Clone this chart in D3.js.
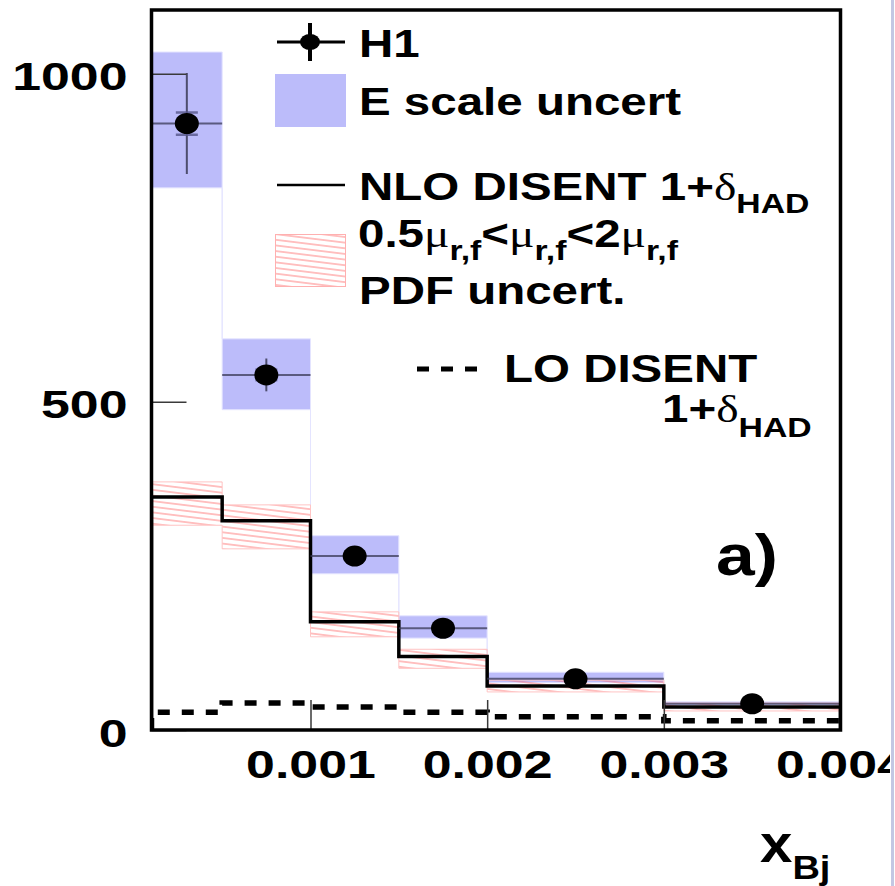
<!DOCTYPE html>
<html><head><meta charset="utf-8">
<script src="https://cdn.jsdelivr.net/npm/d3@7/dist/d3.min.js"></script>
<style>html,body{margin:0;padding:0;background:#fff}svg{display:block}</style>
</head><body>
<svg id="chart" width="895" height="886"></svg>
<script>
// ---- data ----
const binEdges = [0.0001, 0.0005, 0.001, 0.0015, 0.002, 0.003, 0.004];
const h1X = [0.0003, 0.00075, 0.00125, 0.00175, 0.0025, 0.0035];
const h1Y = [924, 541, 265, 155, 78, 40];
const h1TotErr = [77, 25, 10, 7, 4, 3];
const h1StatErr = [17, 8, 5, 4, 3, 2];
const eScaleHigh = [1033, 596, 296, 174, 88, 43];
const eScaleLow = [826, 488, 238, 140, 72, 38];
const nloHad = [355, 319, 165, 112, 67, 35];
const scaleHigh = [378, 343, 180, 123, 76, 41];
const scaleLow = [312, 276, 142, 94, 58, 29];
const loHad = [27, 41, 35, 27, 20, 14];
const yTicks = [0, 500, 1000];
const xTicks = [0.001, 0.002, 0.003, 0.004];
const xTickLabels = ["0.001", "0.002", "0.003", "0.004"];

const SANS = "'Liberation Sans', Arial, Helvetica, sans-serif";
const SERIF = "'Liberation Serif', 'Times New Roman', serif";
const BLUE = "#bcbcfa";

const svg = d3.select("#chart");
const x = d3.scaleLinear().domain([0.0001, 0.004]).range([151.5, 840.5]);
const y = d3.scaleLinear().domain([0, 1097]).range([730, 10]);

const bins = binEdges.slice(0, -1).map((lo, i) => ({lo, hi: binEdges[i + 1], i}));

const defs = svg.append("defs");
const pat = defs.append("pattern").attr("id", "hatch")
  .attr("patternUnits", "userSpaceOnUse").attr("width", 40).attr("height", 5.6)
  .attr("patternTransform", "rotate(7)");
pat.append("line").attr("x1", 0).attr("x2", 40).attr("y1", 2.8).attr("y2", 2.8)
  .attr("stroke", "#ff5c5c").attr("stroke-width", 1).attr("stroke-opacity", 0.8);

defs.append("clipPath").attr("id", "plotclip").append("rect")
  .attr("x", x(0.0001)).attr("y", y(1097)).attr("width", x(0.004) - x(0.0001)).attr("height", y(0) - y(1097));

const plot = svg.append("g").attr("clip-path", "url(#plotclip)");

// E-scale uncertainty band
plot.append("g").selectAll("rect").data(bins).join("rect")
  .attr("x", d => x(d.lo)).attr("width", d => x(d.hi) - x(d.lo))
  .attr("y", d => y(eScaleHigh[d.i])).attr("height", d => y(eScaleLow[d.i]) - y(eScaleHigh[d.i]))
  .attr("fill", BLUE);

function stepPoints(vals, fromZero) {
  const pts = [];
  if (fromZero) pts.push([x(binEdges[0]), y(0)]);
  bins.forEach(b => { pts.push([x(b.lo), y(vals[b.i])]); pts.push([x(b.hi), y(vals[b.i])]); });
  if (fromZero) pts.push([x(binEdges[binEdges.length - 1]), y(0)]);
  return pts;
}
const line = d3.line();

// faint outlines of the E-scale band
[eScaleHigh, eScaleLow].forEach(v => plot.append("path").attr("d", line(stepPoints(v, false)))
  .attr("fill", "none").attr("stroke", "#e4e4ff").attr("stroke-width", 1));

// scale/PDF hatched band
plot.append("g").selectAll("rect").data(bins).join("rect")
  .attr("x", d => x(d.lo)).attr("width", d => x(d.hi) - x(d.lo))
  .attr("y", d => y(scaleHigh[d.i])).attr("height", d => y(scaleLow[d.i]) - y(scaleHigh[d.i]))
  .attr("fill", "url(#hatch)");
[scaleHigh, scaleLow].forEach(v => plot.append("path").attr("d", line(stepPoints(v, false)))
  .attr("fill", "none").attr("stroke", "#ffc4c4").attr("stroke-width", 1));

// axes ticks (inside)
const yAxis = svg.append("g").attr("transform", `translate(${x(0.0001)},0)`)
  .call(d3.axisLeft(y).tickValues(yTicks).tickSize(-35).tickPadding(24).tickFormat(d3.format("d")));
const xAxis = svg.append("g").attr("transform", `translate(0,${y(0)})`)
  .call(d3.axisBottom(x).tickValues(xTicks).tickSize(-30).tickPadding(20).tickFormat((d, i) => xTickLabels[i]));
[yAxis, xAxis].forEach(a => {
  a.select(".domain").remove();
  a.selectAll(".tick line").attr("stroke", "#3a3a3a").attr("stroke-width", 1.5);
  a.selectAll("text").attr("fill", "#000").attr("font-family", SANS).attr("font-weight", "bold").attr("font-size", 39);
});
yAxis.selectAll("text").attr("dy", "0.41em").attr("transform", function () {
  const xx = +d3.select(this).attr("x"); d3.select(this).attr("x", 0);
  return `translate(${xx},0) scale(1.33,1)`;
});
xAxis.selectAll("text").attr("transform", function () {
  const yy = +d3.select(this).attr("y"); d3.select(this).attr("y", 0);
  return `translate(0,${yy}) scale(1.33,1)`;
});

// NLO histogram
plot.append("path").attr("d", line(stepPoints(nloHad, true)))
  .attr("fill", "none").attr("stroke", "#000").attr("stroke-width", 3.5);
// LO histogram (dashed)
plot.append("path").attr("d", line(stepPoints(loHad, true)))
  .attr("fill", "none").attr("stroke", "#000").attr("stroke-width", 5.5).attr("stroke-dasharray", "12,12");

// H1 data
const pts = plot.append("g").selectAll("g").data(h1X.map((v, i) => ({v, i}))).join("g");
pts.append("line").attr("x1", d => x(bins[d.i].lo)).attr("x2", d => x(bins[d.i].hi))
  .attr("y1", d => y(h1Y[d.i])).attr("y2", d => y(h1Y[d.i]))
  .attr("stroke", "#3a3a55").attr("stroke-opacity", 0.75).attr("stroke-width", 2);
pts.append("line").attr("x1", d => x(d.v)).attr("x2", d => x(d.v))
  .attr("y1", d => y(h1Y[d.i] + h1TotErr[d.i])).attr("y2", d => y(h1Y[d.i] - h1TotErr[d.i]))
  .attr("stroke", "#3a3a55").attr("stroke-opacity", 0.85).attr("stroke-width", 2);
[1, -1].forEach(s => pts.append("line")
  .attr("x1", d => x(d.v) - 11).attr("x2", d => x(d.v) + 11)
  .attr("y1", d => y(h1Y[d.i] + s * h1StatErr[d.i])).attr("y2", d => y(h1Y[d.i] + s * h1StatErr[d.i]))
  .attr("stroke", "#55558a").attr("stroke-opacity", 0.8).attr("stroke-width", 2.5));
pts.append("ellipse").attr("cx", d => x(d.v)).attr("cy", d => y(h1Y[d.i]))
  .attr("rx", 12).attr("ry", 10.5).attr("fill", "#000");

// frame
svg.append("rect").attr("x", x(0.0001)).attr("y", y(1097))
  .attr("width", x(0.004) - x(0.0001)).attr("height", y(0) - y(1097))
  .attr("fill", "none").attr("stroke", "#000").attr("stroke-width", 3.5);

// ---- text helpers ----
function stext(px, py, sx, parts, size) {
  const t = svg.append("text").attr("transform", `translate(${px},${py}) scale(${sx},1)`)
    .attr("font-family", SANS).attr("font-weight", "bold").attr("font-size", size).attr("fill", "#000");
  let cur = 0;
  parts.forEach(p => {
    const sh = p.sub ? p.sub : 0;
    const ts = t.append("tspan").text(p.t).attr("dy", sh - cur);
    cur = sh;
    if (p.serif) ts.attr("font-family", SERIF).attr("font-weight", "normal");
    if (p.size) ts.attr("font-size", p.size);
  });
  return t;
}

// ---- legend ----
const leg = svg.append("g");
leg.append("line").attr("x1", 277).attr("x2", 345).attr("y1", 42).attr("y2", 42).attr("stroke", "#000").attr("stroke-width", 3);
leg.append("line").attr("x1", 310).attr("x2", 310).attr("y1", 23).attr("y2", 61).attr("stroke", "#000").attr("stroke-width", 4);
leg.append("ellipse").attr("cx", 310).attr("cy", 42).attr("rx", 10).attr("ry", 8).attr("fill", "#000");
stext(359, 57, 1.25, [{t: "H1"}], 38);

leg.append("rect").attr("x", 275).attr("y", 74).attr("width", 71).attr("height", 53).attr("fill", BLUE);
stext(359, 115, 1.25, [{t: "E scale uncert"}], 38);

leg.append("line").attr("x1", 277).attr("x2", 345).attr("y1", 185).attr("y2", 185).attr("stroke", "#000").attr("stroke-width", 2.5);
stext(359, 200, 1.25, [{t: "NLO DISENT 1+"}, {t: "δ", serif: true}, {t: "HAD", sub: 13, size: 27}], 38);

leg.append("rect").attr("x", 275.5).attr("y", 234.5).attr("width", 70).attr("height", 52)
  .attr("fill", "url(#hatch)").attr("stroke", "#ffb0b0").attr("stroke-width", 1);
stext(358, 247, 1.25, [{t: "0.5"}, {t: "μ", serif: true}, {t: "r,f", sub: 13, size: 27},
  {t: "<"}, {t: "μ", serif: true}, {t: "r,f", sub: 13, size: 27},
  {t: "<2"}, {t: "μ", serif: true}, {t: "r,f", sub: 13, size: 27}], 38);
stext(359, 304, 1.25, [{t: "PDF uncert."}], 38);

leg.append("line").attr("x1", 417).attr("x2", 479).attr("y1", 369).attr("y2", 369)
  .attr("stroke", "#000").attr("stroke-width", 5).attr("stroke-dasharray", "12,12");
stext(504, 382, 1.25, [{t: "LO DISENT"}], 38);
stext(662, 422, 1.25, [{t: "1+"}, {t: "δ", serif: true}, {t: "HAD", sub: 15, size: 27}], 38);

// panel label and axis title
stext(716, 575, 1.2, [{t: "a)"}], 58);
stext(760, 862, 1.12, [{t: "x"}, {t: "Bj", sub: 17, size: 34}], 52);

// right-side page strip
svg.append("rect").attr("x", 890).attr("y", 0).attr("width", 5).attr("height", 886).attr("fill", "#fff");
svg.append("rect").attr("x", 891).attr("y", 0).attr("width", 3).attr("height", 886).attr("fill", "#c3c7e3");
</script>
</body></html>
